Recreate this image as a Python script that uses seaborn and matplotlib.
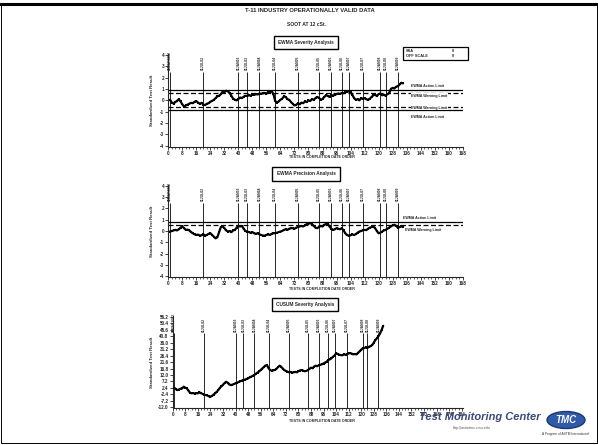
import numpy as np
import pandas as pd
import matplotlib.pyplot as plt
import seaborn as sns
from matplotlib.patches import Rectangle, Ellipse
from matplotlib.lines import Line2D

# values
tests = list(range(1, 135))
severity = [0.05, -0.20, -0.28, -0.15, -0.05, 0.10, -0.10, -0.35, -0.55, -0.45,
            -0.38, -0.30, -0.22, -0.25, -0.12, -0.08, -0.20, -0.30, -0.22, -0.38,
            -0.42, -0.30, -0.25, -0.12, -0.05, 0.05, 0.20, 0.35, 0.40, 0.55,
            0.78, 0.72, 0.85, 0.80, 0.65, 0.40, 0.15, 0.05, 0.00, 0.12,
            0.25, 0.20, 0.32, 0.40, 0.38, 0.45, 0.42, 0.50, 0.48, 0.55,
            0.52, 0.60, 0.58, 0.62, 0.65, 0.60, 0.70, 0.75, 0.80, 0.55,
            -0.05, -0.20, -0.10, 0.05, 0.15, 0.35, 0.30, 0.10, 0.05, -0.15,
            -0.30, -0.45, -0.40, -0.25, -0.35, -0.20, -0.25, -0.10, -0.15, 0.00,
            -0.05, 0.10, 0.05, 0.20, 0.30, 0.22, 0.05, 0.12, 0.30, 0.45,
            0.40, 0.30, 0.48, 0.40, 0.50, 0.55, 0.60, 0.58, 0.65, 0.62,
            0.70, 0.75, 0.80, 0.72, 0.50, 0.20, 0.05, 0.10, 0.00, 0.18,
            0.15, 0.20, 0.10, 0.05, 0.15, 0.30, 0.45, 0.50, 0.38, 0.55,
            0.60, 0.45, 0.50, 0.40, 0.55, 0.62, 1.00, 1.10, 1.05, 1.20,
            1.25, 1.40, 1.55, 1.50]
precision = [-0.05, 0.00, 0.05, 0.10, 0.05, 0.15, 0.30, 0.40, 0.25, 0.10,
             0.12, 0.05, -0.10, -0.20, -0.30, -0.35, -0.32, -0.40, -0.38, -0.30,
             -0.40, -0.35, -0.25, -0.20, -0.35, -0.50, -0.65, -0.55, -0.10, 0.35,
             0.40, 0.25, 0.05, -0.05, 0.00, -0.10, 0.05, 0.10, 0.30, 0.45,
             0.40, 0.45, 0.20, 0.00, -0.05, -0.10, -0.15, -0.10, -0.20, -0.25,
             -0.20, -0.30, -0.35, -0.40, -0.42, -0.35, -0.30, -0.35, -0.25, -0.20,
             -0.20, -0.15, -0.10, -0.05, 0.00, 0.10, 0.15, 0.10, 0.20, 0.25,
             0.25, 0.20, 0.30, 0.35, 0.40, 0.45, 0.40, 0.50, 0.60, 0.65,
             0.70, 0.60, 0.45, 0.30, 0.25, 0.35, 0.45, 0.40, 0.55, 0.60,
             0.62, 0.40, 0.20, 0.10, 0.15, 0.25, 0.20, 0.15, 0.25, 0.05,
             -0.20, -0.35, -0.42, -0.38, -0.30, -0.35, -0.28, -0.15, -0.05, 0.00,
             0.05, 0.10, 0.08, 0.20, 0.30, 0.35, 0.40, 0.25, 0.00, -0.20,
             -0.15, -0.05, 0.05, 0.10, 0.20, 0.30, 0.40, 0.50, 0.55, 0.45,
             0.30, 0.35, 0.40, 0.38]
cusum = [2.5, 1.5, 0.8, 1.2, 1.8, 2.0, 3.3, 2.6, 2.0, 0.5,
         -1.2, -1.6, -1.4, -1.8, -1.5, -1.6, -0.9, -1.5, -2.0, -2.6,
         -2.9, -3.2, -3.8, -4.1, -3.5, -2.6, -1.6, -0.5, 0.8, 2.5,
         3.5, 4.8, 6.0, 7.0, 6.2, 5.0, 4.5, 4.8, 5.3, 5.8,
         6.3, 6.8, 7.3, 7.8, 8.3, 8.6, 9.0, 9.5, 10.2, 10.8,
         11.4, 12.0, 13.0, 13.8, 14.6, 15.7, 16.8, 17.8, 19.0, 19.4,
         17.0, 15.7, 15.2, 15.5, 15.7, 16.5, 17.8, 18.9, 18.2, 16.8,
         15.7, 15.0, 14.5, 14.0, 14.2, 13.8, 14.0, 14.3, 14.0, 14.8,
         15.3, 15.7, 15.2, 14.8, 15.0, 15.6, 16.5, 17.4, 17.0, 18.2,
         18.9, 18.5, 19.2, 19.6, 19.9, 20.5, 21.2, 21.8, 23.1, 23.6,
         24.3, 25.5, 26.4, 28.0, 27.6, 27.0, 26.8, 26.6, 27.3, 27.0,
         27.5, 28.0, 28.3, 27.8, 27.3, 27.6, 27.3, 28.4, 29.5, 30.6,
         31.8, 32.0, 32.4, 32.2, 33.0, 33.4, 34.2, 36.0, 38.0, 39.2,
         40.8, 42.9, 45.5, 48.5]

line_tests = [1, 20, 40, 45, 52, 61, 74, 86, 93, 99, 103, 111, 121, 124, 131]
line_dates = ['06MAR2002', '01JUL02', '01JAN03', '01JUL03', '01JAN04', '01JUL04',
              '01JAN05', '01JUL05', '01JAN06', '01JUL06', '01JAN07', '01JUL07',
              '01JAN08', '01JUL08', '01JAN09']

sev_action, sev_warning = 0.88, 0.62
prec_action, prec_warning = 0.82, 0.53

ewma_ticks = [-4, -3, -2, -1, 0, 1, 2, 3, 4]
cusum_ticks = [-12.0, -7.2, -2.4, 2.4, 7.2, 12.0, 16.8, 21.6, 26.4, 31.2,
               36.0, 40.8, 45.6, 50.4, 55.2]
x_ticks_ewma = list(range(0, 169, 8))
x_ticks_cusum = list(range(0, 185, 8))

df = pd.DataFrame({'test': tests, 'severity': severity,
                   'precision': precision, 'cusum': cusum})

sns.set_style("ticks")
plt.rcParams['font.family'] = ['Liberation Sans', 'DejaVu Sans']

W, H = 598, 445
fig = plt.figure(figsize=(W / 100, H / 100), dpi=100)


def fx(px):
    return px / W


def fy(py):
    return 1 - py / H


def style_axes(ax, xticks, yticks, yfmt):
    sns.despine(ax=ax)
    for s in ['left', 'bottom']:
        ax.spines[s].set_linewidth(0.8)
    ax.set_xticks(xticks)
    ax.set_xticks(np.arange(0, xticks[-1] + 1, 2), minor=True)
    ax.set_yticks(yticks)
    ax.set_yticklabels([yfmt.format(v) for v in yticks])
    ax.tick_params(axis='both', which='major', labelsize=3.3, length=2, width=0.6, pad=1)
    ax.tick_params(axis='x', which='minor', length=1.2, width=0.5)
    for lab in ax.get_xticklabels() + ax.get_yticklabels():
        lab.set_fontweight('bold')
    ax.set_xlabel('')
    ax.set_ylabel('')


def draw_dates(ax, top, label_y):
    ax.vlines(line_tests, ax.get_ylim()[0], top, colors='0.15', linewidth=0.7)
    for t, d in zip(line_tests, line_dates):
        ax.text(t, label_y, d, rotation=90, ha='center', va='bottom',
                fontsize=2.4, fontweight='bold', clip_on=False)


def draw_series(ax, col):
    sns.lineplot(data=df, x='test', y=col, ax=ax, color='black', linewidth=1.6,
                 marker='s', markersize=2.0, markeredgewidth=0, zorder=5)


def box_title(xc, yc, text):
    fig.text(fx(xc), fy(yc), text, ha='center', va='center', fontsize=3.4,
             fontweight='bold',
             bbox=dict(boxstyle='square,pad=0.9', fc='white', ec='black', lw=1.0))


# ---- EWMA severity panel ----
ax1 = fig.add_axes([fx(168.3), fy(146.8), (462.7 - 168.3) / W, 92.9 / H])
ax1.set_xlim(0, 168)
ax1.set_ylim(-4.1, 4.1)
draw_dates(ax1, 2.5, 2.65)
draw_series(ax1, 'severity')
for v in [sev_action, -sev_action]:
    ax1.axhline(v, color='black', lw=0.9)
for v in [sev_warning, -sev_warning]:
    ax1.axhline(v, color='black', lw=0.9, dashes=(4, 2))
lab_kw = dict(ha='center', va='center', fontsize=2.6, fontweight='bold', clip_on=False)
ax1.text(148, 1.25, 'EWMA Action Limit', **lab_kw)
ax1.text(149, 0.42, 'EWMA Warning Limit', bbox=dict(fc='white', ec='none', pad=0.3), **lab_kw)
ax1.text(149, -0.65, 'EWMA Warning Limit', bbox=dict(fc='white', ec='none', pad=0.3), **lab_kw)
ax1.text(148, -1.5, 'EWMA Action Limit', **lab_kw)
style_axes(ax1, x_ticks_ewma, ewma_ticks, '{:d}')

# ---- EWMA precision panel ----
ax2 = fig.add_axes([fx(168.3), fy(277.3), (462.7 - 168.3) / W, 92.6 / H])
ax2.set_xlim(0, 168)
ax2.set_ylim(-4.1, 4.1)
draw_dates(ax2, 2.5, 2.65)
draw_series(ax2, 'precision')
ax2.axhline(prec_action, color='black', lw=0.9)
ax2.axhline(prec_warning, color='black', lw=0.9, dashes=(4, 2))
ax2.text(134, 1.12, 'EWMA Action Limit', ha='left', va='center', fontsize=2.6,
         fontweight='bold')
ax2.text(135, 0.09, 'EWMA Warning Limit', ha='left', va='center', fontsize=2.6,
         fontweight='bold', bbox=dict(fc='white', ec='none', pad=0.3), zorder=6)
style_axes(ax2, x_ticks_ewma, ewma_ticks, '{:d}')

# ---- CUSUM severity panel ----
ax3 = fig.add_axes([fx(172.7), fy(408.0), 290 / W, 91.9 / H])
ax3.set_xlim(0, 184.6)
ax3.set_ylim(-12.5, 55.7)
draw_dates(ax3, 42.9, 44.0)
draw_series(ax3, 'cusum')
style_axes(ax3, x_ticks_cusum, cusum_ticks, '{:.1f}')

# ---- page texts ----
fig.text(fx(310), fy(11), 'T-11 INDUSTRY OPERATIONALLY VALID DATA', ha='center',
         va='center', fontsize=4.2, fontweight='bold')
fig.text(fx(306), fy(24), 'SOOT AT 12 cSt.', ha='center', va='center',
         fontsize=3.6, fontweight='bold')
box_title(306, 42.5, 'EWMA Severity Analysis')
box_title(306, 174, 'EWMA Precision Analysis')
box_title(305, 304.5, 'CUSUM Severity Analysis')

for yc in [100, 231, 362]:
    fig.text(fx(152), fy(yc), 'Standardized Test Result', rotation=90, ha='center',
             va='center', fontsize=3.2, fontweight='bold')
for yc in [157.5, 289.5, 421.5]:
    fig.text(fx(322), fy(yc), 'TESTS IN COMPLETION DATE ORDER', ha='center',
             va='center', fontsize=2.6, fontweight='bold')

# small count box
fig.patches.append(Rectangle((fx(403), fy(60)), 65 / W, 13.3 / H, fill=False,
                             ec='black', lw=0.9, transform=fig.transFigure))
for yc, name in [(50.5, 'SSA'), (56.3, 'OFF SCALE')]:
    fig.text(fx(406), fy(yc), name, ha='left', va='center', fontsize=2.8, fontweight='bold')
    fig.text(fx(453), fy(yc), '0', ha='center', va='center', fontsize=2.8, fontweight='bold')

# page frame
fig.patches.append(Rectangle((fx(1), fy(443)), 596 / W, 439 / H, fill=False,
                             ec='black', lw=0.7, transform=fig.transFigure))
fig.lines.append(Line2D([0, 1], [fy(3.5), fy(3.5)], color='black', lw=2.2,
                        transform=fig.transFigure))

# TMC logo
fig.text(fx(480), fy(417), 'Test Monitoring Center', ha='center', va='center',
         fontsize=8, fontweight='bold', fontstyle='italic', color='#3a4a7a', zorder=10)
fig.text(fx(472), fy(427.5), 'http://astmtmc.cmu.edu', ha='center', va='center',
         fontsize=2.6, color='#555555')
fig.patches.append(Ellipse((fx(566), fy(420)), 38 / W, 17 / H, fc='#2f5ba8',
                           ec='#1c3870', lw=1.0, transform=fig.transFigure))
fig.text(fx(566), fy(420), 'TMC', ha='center', va='center', fontsize=7,
         fontweight='bold', fontstyle='italic', color='white')
fig.text(fx(566), fy(434), 'A Program of ASTM International', ha='center',
         va='center', fontsize=2.3, color='#333333')

plt.savefig('out.png', dpi=100)
